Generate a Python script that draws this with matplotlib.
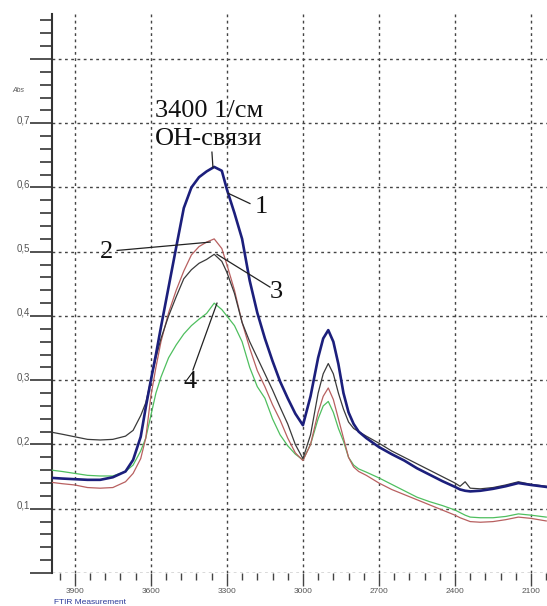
import matplotlib
matplotlib.use("Agg")
import matplotlib.pyplot as plt
from matplotlib.ticker import MultipleLocator, FixedFormatter, FixedLocator

# wavenumber grid, 1/cm
wavenumber = [3990, 3950, 3900, 3850, 3800, 3750, 3700, 3670, 3640, 3620,
              3600, 3580, 3560, 3530, 3500, 3470, 3440, 3410, 3380, 3350,
              3320, 3300, 3270, 3240, 3210, 3180, 3150, 3120, 3090, 3060,
              3030, 3000, 2970, 2940, 2920, 2900, 2880, 2860, 2840, 2820,
              2800, 2780, 2750, 2700, 2650, 2600, 2550, 2500, 2450, 2400,
              2380, 2360, 2340, 2300, 2250, 2200, 2150, 2100, 2040]

abs_1 = [0.148, 0.147, 0.146, 0.145, 0.145, 0.149, 0.158, 0.176, 0.212, 0.258,
         0.300, 0.340, 0.383, 0.445, 0.507, 0.568, 0.600, 0.616, 0.625, 0.632,
         0.626, 0.597, 0.560, 0.520, 0.455, 0.405, 0.365, 0.330, 0.298, 0.272,
         0.248, 0.230, 0.275, 0.335, 0.365, 0.378, 0.360, 0.325, 0.280, 0.250,
         0.232, 0.220, 0.210, 0.196, 0.185, 0.175, 0.163, 0.153, 0.143, 0.134,
         0.130, 0.128, 0.127, 0.128, 0.131, 0.135, 0.140, 0.137, 0.134]

abs_2 = [0.141, 0.139, 0.137, 0.133, 0.132, 0.133, 0.142, 0.155, 0.178, 0.210,
         0.275, 0.320, 0.360, 0.405, 0.440, 0.470, 0.495, 0.508, 0.515, 0.520,
         0.505, 0.480, 0.440, 0.390, 0.350, 0.315, 0.290, 0.262, 0.238, 0.210,
         0.187, 0.175, 0.200, 0.250, 0.275, 0.288, 0.270, 0.240, 0.210, 0.180,
         0.165, 0.158, 0.152, 0.140, 0.130, 0.122, 0.114, 0.106, 0.098, 0.090,
         0.086, 0.083, 0.080, 0.079, 0.080, 0.083, 0.087, 0.085, 0.081]

abs_3 = [0.219, 0.216, 0.212, 0.208, 0.207, 0.208, 0.213, 0.222, 0.245, 0.265,
         0.300, 0.335, 0.365, 0.400, 0.430, 0.458, 0.472, 0.482, 0.488, 0.496,
         0.485, 0.468, 0.435, 0.390, 0.360, 0.335, 0.310, 0.285, 0.258, 0.232,
         0.200, 0.178, 0.215, 0.280, 0.310, 0.326, 0.310, 0.280, 0.255, 0.235,
         0.225, 0.220, 0.213, 0.202, 0.190, 0.180, 0.170, 0.160, 0.150, 0.140,
         0.135, 0.142, 0.132, 0.131, 0.133, 0.137, 0.142, 0.138, 0.135]

abs_4 = [0.160, 0.158, 0.155, 0.152, 0.151, 0.151, 0.158, 0.168, 0.190, 0.210,
         0.245, 0.280, 0.305, 0.335, 0.355, 0.372, 0.385, 0.395, 0.404, 0.420,
         0.410, 0.400, 0.385, 0.360, 0.320, 0.290, 0.272, 0.240, 0.215, 0.198,
         0.185, 0.176, 0.200, 0.240, 0.260, 0.267, 0.250, 0.225, 0.205, 0.180,
         0.168, 0.162, 0.157, 0.148, 0.138, 0.128, 0.118, 0.111, 0.105, 0.098,
         0.094, 0.090, 0.087, 0.086, 0.086, 0.088, 0.092, 0.090, 0.087]

y_ticks = [0.0, 0.1, 0.2, 0.3, 0.4, 0.5, 0.6, 0.7, 0.8]
y_tick_labels = ["", "0,1", "0,2", "0,3", "0,4", "0,5", "0,6", "0,7", ""]
x_ticks = [3900, 3600, 3300, 3000, 2700, 2400, 2100]
x_tick_labels = ["3900", "3600", "3300", "3000", "2700", "2400", "2100"]

W, H = 547, 606
fig = plt.figure(figsize=(W / 100, H / 100), dpi=100, facecolor="white")
ax = fig.add_axes([52 / W, 33 / H, 495 / W, 559 / H])

ax.plot(wavenumber, abs_4, color="#4fbf5f", lw=0.9, zorder=3)
ax.plot(wavenumber, abs_2, color="#b86060", lw=0.9, zorder=3)
ax.plot(wavenumber, abs_3, color="#3a3a3a", lw=0.9, zorder=4)
ax.plot(wavenumber, abs_1, color="#1c1f7c", lw=1.9, zorder=5)

ax.set_xlim(3990, 2037)
ax.set_ylim(0, 0.87)

ax.xaxis.set_major_locator(FixedLocator(x_ticks))
ax.xaxis.set_major_formatter(FixedFormatter(x_tick_labels))
ax.xaxis.set_minor_locator(MultipleLocator(60))
ax.yaxis.set_major_locator(FixedLocator(y_ticks))
ax.yaxis.set_major_formatter(FixedFormatter(y_tick_labels))
ax.yaxis.set_minor_locator(MultipleLocator(0.02))

for side in ("top", "right", "bottom"):
    ax.spines[side].set_visible(False)
ax.spines["left"].set_color("#333333")
ax.spines["left"].set_linewidth(1.5)

ax.grid(which="major", color="#444444", linestyle=(0, (2, 2.5)), lw=1.0)
ax.set_axisbelow(True)

ax.tick_params(axis="y", which="major", direction="out", length=15.8, width=1.3,
               color="#444444", labelsize=7, labelcolor="#555555", pad=0)
ax.tick_params(axis="y", which="minor", direction="out", length=8.6, width=1.3,
               color="#444444")
ax.tick_params(axis="x", which="major", direction="out", length=9, width=1.0,
               color="#444444", labelsize=6, labelcolor="#555555", pad=2)
ax.tick_params(axis="x", which="minor", direction="out", length=5, width=1.0,
               color="#444444")
for lab in ax.get_yticklabels():
    lab.set_va("baseline")
    lab.set_fontfamily("Liberation Sans")
for lab in ax.get_xticklabels():
    lab.set_fontfamily("Liberation Sans")

fig.text(12 / W, 1 - 91 / H, "Abs", fontsize=5, style="italic", color="#555555",
         va="center", family="Liberation Sans")
fig.text(54 / W, 1 - 603 / H, "FTIR Measurement", fontsize=6, color="#2a3a9a",
         va="center", family="Liberation Sans")

# annotations
serif = dict(family="Liberation Serif", fontsize=19, color="#111111")
ax.text(3584, 0.709, "3400 1/см", ha="left", va="baseline", **serif)
ax.text(3584, 0.666, "ОН-связи", ha="left", va="baseline", **serif)
ax.text(3189, 0.561, "1", ha="left", va="baseline", **serif)
ax.text(3801, 0.490, "2", ha="left", va="baseline", **serif)
ax.text(3130, 0.428, "3", ha="left", va="baseline", **serif)
ax.text(3473, 0.288, "4", ha="left", va="baseline", **serif)

lk = dict(color="#222222", lw=0.9, zorder=6)
ax.plot([3359, 3355], [0.655, 0.631], **lk)
ax.plot([3295, 3209], [0.591, 0.575], **lk)
ax.plot([3733, 3366], [0.502, 0.515], **lk)
ax.plot([3339, 3130], [0.496, 0.445], **lk)
ax.plot([3339, 3434], [0.420, 0.316], **lk)

fig.savefig("out.png", dpi=100, facecolor="white")
